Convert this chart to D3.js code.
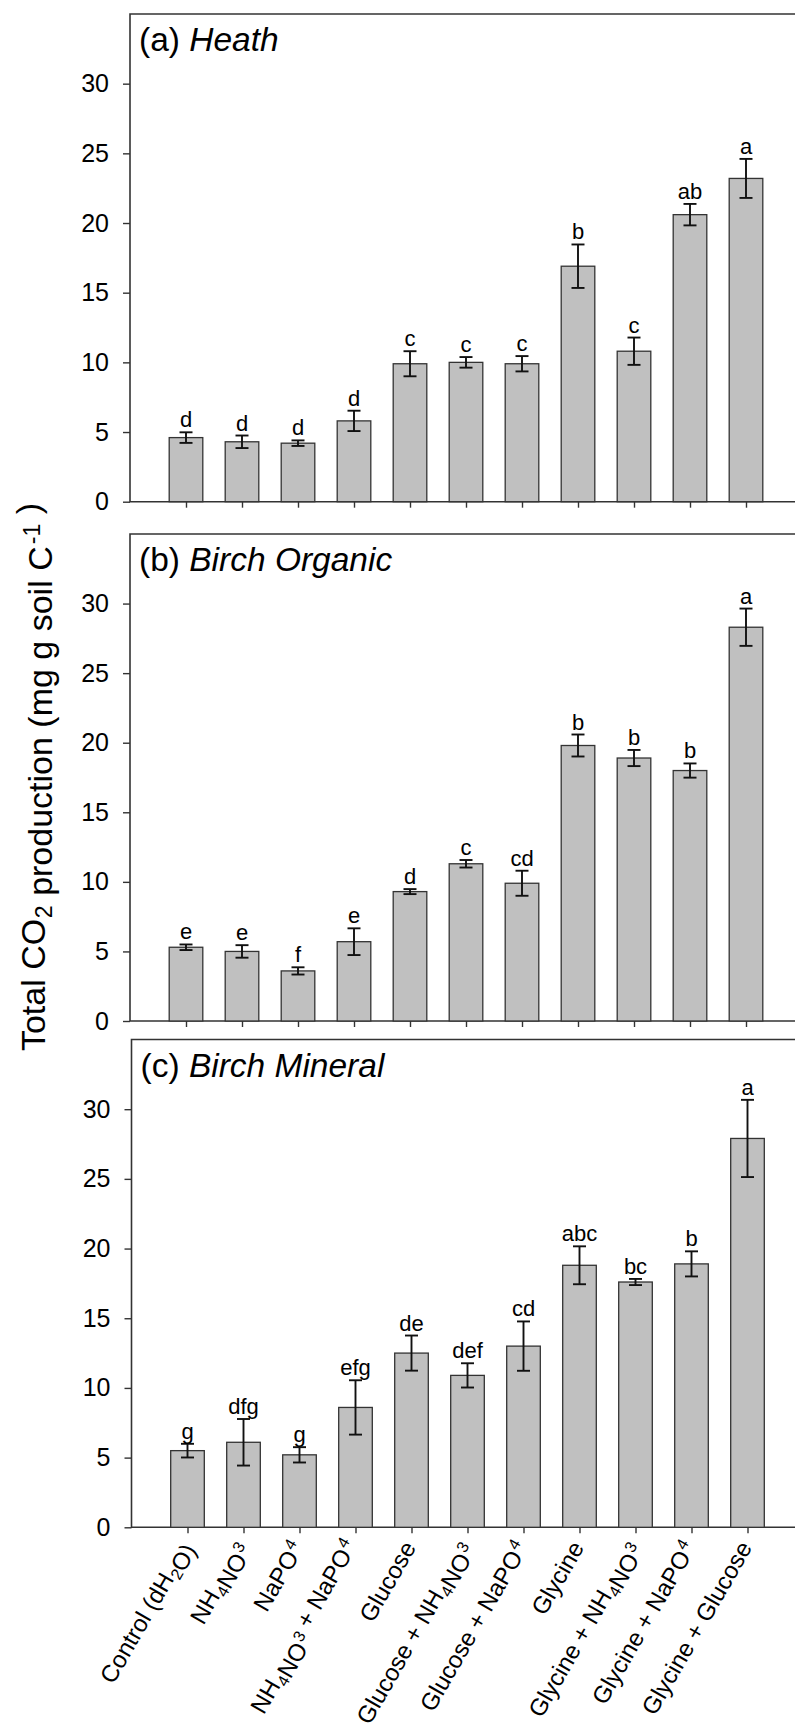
<!DOCTYPE html>
<html>
<head>
<meta charset="utf-8">
<script src="https://cdn.jsdelivr.net/npm/d3@7"></script>
<style>
body{margin:0;background:#fff}
text{font-family:"Liberation Sans",Arial,sans-serif;fill:#000}
</style>
</head>
<body>
<svg id="chart" width="795" height="1731"></svg>
<script>
// treatment names, _x = subscript, ^x = superscript
var treatments = ["Control (dH_2O)", "NH_4NO^3", "NaPO^4", "NH_4NO^3 + NaPO^4", "Glucose",
  "Glucose + NH_4NO^3", "Glucose + NaPO^4", "Glycine", "Glycine + NH_4NO^3",
  "Glycine + NaPO^4", "Glycine + Glucose"]

var yTicks = [0, 5, 10, 15, 20, 25, 30]

var heathMean = [4.6, 4.3, 4.2, 5.8, 9.9, 10.0, 9.9, 16.9, 10.8, 20.6, 23.2]
var heathErr = [0.38, 0.45, 0.2, 0.73, 0.9, 0.38, 0.55, 1.56, 0.98, 0.77, 1.4]
var heathLetters = ["d", "d", "d", "d", "c", "c", "c", "b", "c", "ab", "a"]

var organicMean = [5.3, 5.0, 3.6, 5.7, 9.3, 11.3, 9.9, 19.8, 18.9, 18.0, 28.3]
var organicErr = [0.2, 0.45, 0.26, 0.96, 0.18, 0.27, 0.9, 0.79, 0.58, 0.51, 1.34]
var organicLetters = ["e", "e", "f", "e", "d", "c", "cd", "b", "b", "b", "a"]

var mineralMean = [5.5, 6.1, 5.2, 8.6, 12.5, 10.9, 13.0, 18.8, 17.6, 18.9, 27.9]
var mineralErr = [0.49, 1.67, 0.55, 1.95, 1.26, 0.87, 1.77, 1.36, 0.22, 0.9, 2.77]
var mineralLetters = ["g", "dfg", "g", "efg", "de", "def", "cd", "abc", "bc", "b", "a"]

var svg = d3.select('#chart')

var panels = [
  {tag: "(a) ", name: "Heath", mean: heathMean, err: heathErr, letters: heathLetters, top: 14, bottom: 501.7, left: 130},
  {tag: "(b) ", name: "Birch Organic", mean: organicMean, err: organicErr, letters: organicLetters, top: 534, bottom: 1021, left: 130},
  {tag: "(c) ", name: "Birch Mineral", mean: mineralMean, err: mineralErr, letters: mineralLetters, top: 1039.5, bottom: 1527.3, left: 131.5, labels: true}
]

// writes "NH_4NO^3" / "C^{-1}" style strings as tspans
function richText(sel, str, size){
  var parts = str.split(/([_^](?:\{[^}]*\}|.))/).filter(function(s){return s.length})
  parts.forEach(function(p){
    var t = p.slice(1).replace(/[{}]/g, '')
    if (p[0] == '_'){
      sel.append('tspan').attr('font-size', size*0.68).attr('dx', size*0.02).attr('dy', size*0.22).text(t)
      sel.append('tspan').attr('dy', -size*0.22).text('')
    } else if (p[0] == '^'){
      sel.append('tspan').attr('font-size', size*0.68).attr('dx', size*0.06).attr('dy', -size*0.36).text(t)
      sel.append('tspan').attr('dy', size*0.36).text('')
    } else {
      sel.append('tspan').text(p)
    }
  })
}

panels.forEach(function(p){
  var y = d3.scaleLinear().domain([0, 35]).range([p.bottom, p.top])
  var x = d3.scaleLinear().domain([0, 12]).range([p.left, p.left + 672])
  var bw = (x(1) - x(0))*0.6
  var g = svg.append('g')

  // frame (right side runs off the page)
  g.append('path')
    .attr('d', 'M800,' + p.top + 'H' + p.left + 'V' + p.bottom + 'H800')
    .attr('fill', 'none')
    .attr('stroke', '#333')
    .attr('stroke-width', 1.6)

  var yAxis = g.append('g')
    .attr('transform', 'translate(' + p.left + ',0)')
    .call(d3.axisLeft(y).tickValues(yTicks).tickSize(7).tickPadding(14))
  yAxis.select('.domain').remove()
  yAxis.selectAll('line').attr('stroke', '#333').attr('stroke-width', 1.4)
  yAxis.selectAll('text').attr('font-size', 25).attr('font-family', null).attr('fill', '#000')

  var xAxis = g.append('g')
    .attr('transform', 'translate(0,' + p.bottom + ')')
    .call(d3.axisBottom(x).tickValues(d3.range(1, 12)).tickSize(6).tickFormat(''))
  xAxis.select('.domain').remove()
  xAxis.selectAll('line').attr('stroke', '#333').attr('stroke-width', 1.4)

  g.selectAll('rect.bar')
    .data(p.mean)
    .enter().append('rect')
    .attr('class', 'bar')
    .attr('x', function(d, i){return x(i + 1) - bw/2})
    .attr('y', function(d){return y(d)})
    .attr('width', bw)
    .attr('height', function(d){return y(0) - y(d)})
    .attr('fill', '#c0c0c0')
    .attr('stroke', '#333')
    .attr('stroke-width', 1.3)

  var err = g.selectAll('g.err')
    .data(p.mean)
    .enter().append('g')
    .attr('class', 'err')
    .attr('stroke', '#111')
    .attr('stroke-width', 1.9)
  err.append('line')
    .attr('x1', function(d, i){return x(i + 1)})
    .attr('x2', function(d, i){return x(i + 1)})
    .attr('y1', function(d, i){return y(d - p.err[i])})
    .attr('y2', function(d, i){return y(d + p.err[i])})
  err.append('line')
    .attr('x1', function(d, i){return x(i + 1) - 6.5})
    .attr('x2', function(d, i){return x(i + 1) + 6.5})
    .attr('y1', function(d, i){return y(d + p.err[i])})
    .attr('y2', function(d, i){return y(d + p.err[i])})
  err.append('line')
    .attr('x1', function(d, i){return x(i + 1) - 6.5})
    .attr('x2', function(d, i){return x(i + 1) + 6.5})
    .attr('y1', function(d, i){return y(d - p.err[i])})
    .attr('y2', function(d, i){return y(d - p.err[i])})

  g.selectAll('text.letter')
    .data(p.letters)
    .enter().append('text')
    .attr('class', 'letter')
    .attr('x', function(d, i){return x(i + 1)})
    .attr('y', function(d, i){return y(p.mean[i] + p.err[i]) - 5})
    .attr('text-anchor', 'middle')
    .attr('font-size', 22)
    .text(function(d){return d})

  var title = g.append('text')
    .attr('x', p.left + 9)
    .attr('y', p.top + 37)
    .attr('font-size', 33.5)
  title.append('tspan').text(p.tag)
  title.append('tspan').attr('font-style', 'italic').text(p.name)

  if (p.labels){
    g.selectAll('text.cat')
      .data(treatments)
      .enter().append('text')
      .attr('class', 'cat')
      .attr('text-anchor', 'end')
      .attr('font-size', 24)
      .attr('transform', function(d, i){return 'translate(' + (x(i + 1) - 2) + ',' + (p.bottom + 16) + ') rotate(-60)'})
      .attr('dy', '0.35em')
      .each(function(d){richText(d3.select(this), d, 24)})
  }
})

var ytitle = svg.append('text')
  .attr('transform', 'translate(45,777) rotate(-90)')
  .attr('text-anchor', 'middle')
  .attr('font-size', 34)
richText(ytitle, "Total CO_2 production (mg g soil C^{-1} )", 34)
</script>
</body>
</html>
